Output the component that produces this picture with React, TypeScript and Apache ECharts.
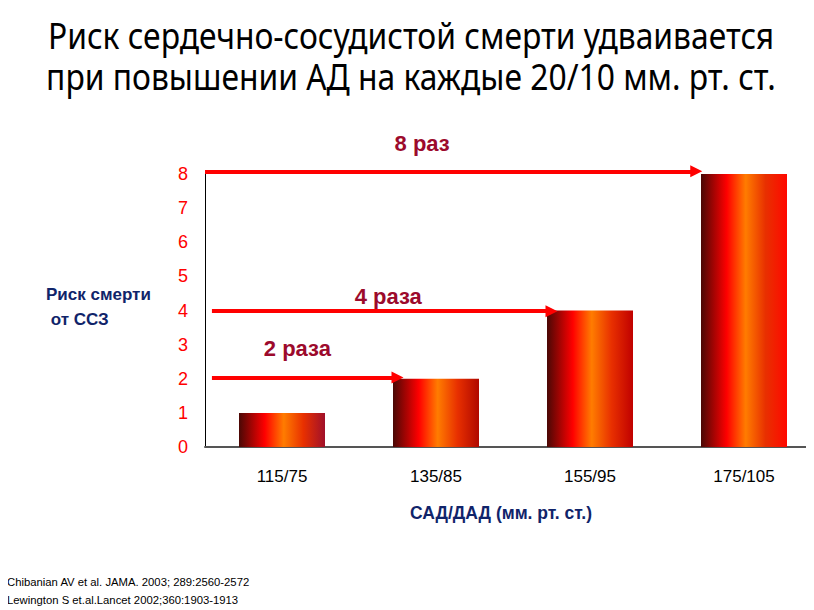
import React, { useEffect, useRef } from "react";
import * as echarts from "echarts";

const categories = ["115/75", "135/85", "155/95", "175/105"];
const riskValues = [1, 2, 4, 8];
const yTicks = [0, 1, 2, 3, 4, 5, 6, 7, 8];
// arrows: [startX, endX, level] on a 0..4 category-span scale
const arrows = [
  [0, 3.19, 8.08],
  [0.045, 2.25, 3.98],
  [0.045, 1.25, 2.04],
];
const arrowLabels = [
  [1.41, 8.9, "8 раз"],
  [1.19, 4.4, "4 раза"],
  [0.6, 2.88, "2 раза"],
];
const rightEdgeColors = ["#a0102a", "#b00800", "#c00000", "#ff0800"];
const titleLines = [
  "Риск сердечно-сосудистой смерти удваивается",
  "при повышении АД на каждые 20/10 мм. рт. ст.",
];
const yAxisTitle = "Риск смерти\n от ССЗ";
const xAxisTitle = "САД/ДАД (мм. рт. ст.)";
const references = [
  "Chibanian AV et al. JAMA. 2003; 289:2560-2572",
  "Lewington S et.al.Lancet 2002;360:1903-1913",
];

function barGradient(rightColor: string) {
  return new echarts.graphic.LinearGradient(0, 0, 1, 0, [
    { offset: 0, color: "#4a0805" },
    { offset: 0.3, color: "#ff0000" },
    { offset: 0.52, color: "#ff7c00" },
    { offset: 0.75, color: "#e83000" },
    { offset: 1, color: rightColor },
  ]);
}

export default function App() {
  const ref = useRef<HTMLDivElement>(null);
  useEffect(() => {
    const chart = echarts.init(ref.current!, null, { renderer: "svg" });
    const sans = "'Liberation Sans', Arial, sans-serif";
    chart.setOption({
      animation: false,
      backgroundColor: "#fff",
      grid: { left: 205, top: 174, height: 273, width: 616, containLabel: false },
      xAxis: [
        {
          type: "category",
          data: categories,
          axisLine: { lineStyle: { color: "#555", width: 2 } },
          axisTick: { show: false },
          axisLabel: { color: "#000", fontSize: 17, fontFamily: sans, margin: 21 },
        },
        { type: "value", min: 0, max: 4, show: false },
      ],
      yAxis: {
        type: "value",
        min: 0,
        max: 8,
        interval: 1,
        axisLine: { show: true, lineStyle: { color: "#000", width: 1 } },
        axisTick: { show: false },
        splitLine: { show: false },
        axisLabel: {
          color: "#ff0000",
          fontSize: 18,
          fontFamily: sans,
          margin: 17,
          formatter: (v: number) => (yTicks.includes(v) ? String(v) : ""),
        },
      },
      series: [
        {
          type: "bar",
          barWidth: 86,
          data: riskValues.map((v, i) => ({
            value: v,
            itemStyle: { color: barGradient(rightEdgeColors[i]) },
          })),
        },
        {
          type: "lines",
          coordinateSystem: "cartesian2d",
          xAxisIndex: 1,
          yAxisIndex: 0,
          clip: false,
          symbol: ["none", "triangle"],
          symbolSize: [11, 12],
          lineStyle: { color: "#ff0000", width: 4, opacity: 1 },
          itemStyle: { color: "#ff0000" },
          data: arrows.map((a) => ({ coords: [[a[0], a[2]], [a[1], a[2]]] })),
          z: 5,
        },
        {
          type: "scatter",
          xAxisIndex: 1,
          clip: false,
          symbolSize: 0,
          itemStyle: { opacity: 1 },
          data: arrowLabels.map((l) => ({ value: [l[0], l[1]], name: l[2] })),
          label: {
            show: true,
            position: "inside",
            formatter: (p: any) => p.name,
            color: "#9c0a2c",
            fontSize: 22,
            fontWeight: "bold",
            fontFamily: sans,
          },
        },
      ],
      graphic: [
        { type: "rect", shape: { x: 0, y: 0, width: 1, height: 610 }, style: { fill: "#c8c8c8" } },
        ...titleLines.map((t, i) => ({
          type: "text",
          x: 411,
          y: 35 + i * 41,
          scaleX: 0.86,
          style: {
            text: t,
            textAlign: "center",
            textVerticalAlign: "middle",
            fill: "#000",
            fontSize: 37,
            fontFamily: "'Noto Sans', sans-serif",
          },
        })),
        {
          type: "text",
          x: 46,
          y: 282,
          style: {
            text: yAxisTitle,
            fill: "#10246a",
            fontSize: 17,
            fontWeight: "bold",
            fontFamily: sans,
            lineHeight: 25,
          },
        },
        {
          type: "text",
          x: 501,
          y: 513,
          style: {
            text: xAxisTitle,
            textAlign: "center",
            textVerticalAlign: "middle",
            fill: "#10246a",
            fontSize: 17.5,
            fontWeight: "bold",
            fontFamily: sans,
          },
        },
        ...references.map((r, i) => ({
          type: "text",
          x: 7,
          y: 576 + i * 18,
          style: { text: r, fill: "#000", fontSize: 11.3, fontFamily: sans },
        })),
      ],
    });
    return () => chart.dispose();
  }, []);
  return (
    <div style={{ width: 814, height: 610, marginLeft: -8, marginTop: -8, overflow: "hidden" }}>
      <div ref={ref} style={{ width: 830, height: 610 }} />
    </div>
  );
}
